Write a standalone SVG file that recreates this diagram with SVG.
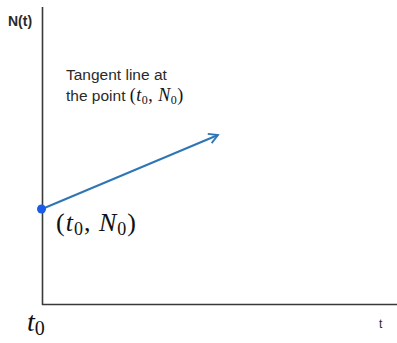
<svg xmlns="http://www.w3.org/2000/svg" width="397" height="343" viewBox="0 0 397 343">
<defs>
<style>
.axis{stroke:#3a3a3a;stroke-width:1.6;fill:none}
.lbl{font-family:"Liberation Sans","DejaVu Sans",sans-serif;fill:#2a2a2a}
.math{font-family:"Liberation Serif","DejaVu Serif",serif;fill:#111}
.it{font-style:italic}
</style>
<marker id="arr" viewBox="0 0 12 12" refX="10" refY="6" markerWidth="12" markerHeight="12" markerUnits="userSpaceOnUse" orient="auto">
<path d="M1,1 L10,6 L1,11" fill="none" stroke="#2e75b6" stroke-width="1.8"/>
</marker>
</defs>
<rect width="397" height="343" fill="#fff"/>
<g id="axes">
<line class="axis" x1="42.5" y1="7" x2="42.5" y2="305"/>
<line class="axis" x1="42" y1="304.5" x2="397" y2="304.5"/>
</g>
<g id="connectors">
<line x1="42" y1="209" x2="218" y2="135" stroke="#2e75b6" stroke-width="2" marker-end="url(#arr)"/>
</g>
<g id="point">
<circle cx="41.5" cy="209" r="4.5" fill="#1a5ce8"/>
</g>
<g id="labels">
<text class="lbl" x="8" y="26" font-size="14" font-weight="bold">N(t)</text>
<text class="lbl" x="66" y="80" font-size="15.5">Tangent line at</text>
<text class="lbl" x="66" y="101" font-size="15.5">the point <tspan class="math" font-size="18" letter-spacing="0.5">(<tspan class="it">t</tspan><tspan font-size="12" dy="3">0</tspan><tspan dy="-3">, </tspan><tspan class="it">N</tspan><tspan font-size="12" dy="3">0</tspan><tspan dy="-3">)</tspan></tspan></text>
<text class="math" x="56" y="231" font-size="26" letter-spacing="1">(<tspan class="it">t</tspan><tspan font-size="18" dy="4">0</tspan><tspan dy="-4">, </tspan><tspan class="it">N</tspan><tspan font-size="18" dy="4">0</tspan><tspan dy="-4">)</tspan></text>
<text class="math" x="27" y="331" font-size="28"><tspan class="it">t</tspan><tspan font-size="20" dy="4">0</tspan></text>
<text class="lbl" x="379" y="328" font-size="12">t</text>
</g>
</svg>
